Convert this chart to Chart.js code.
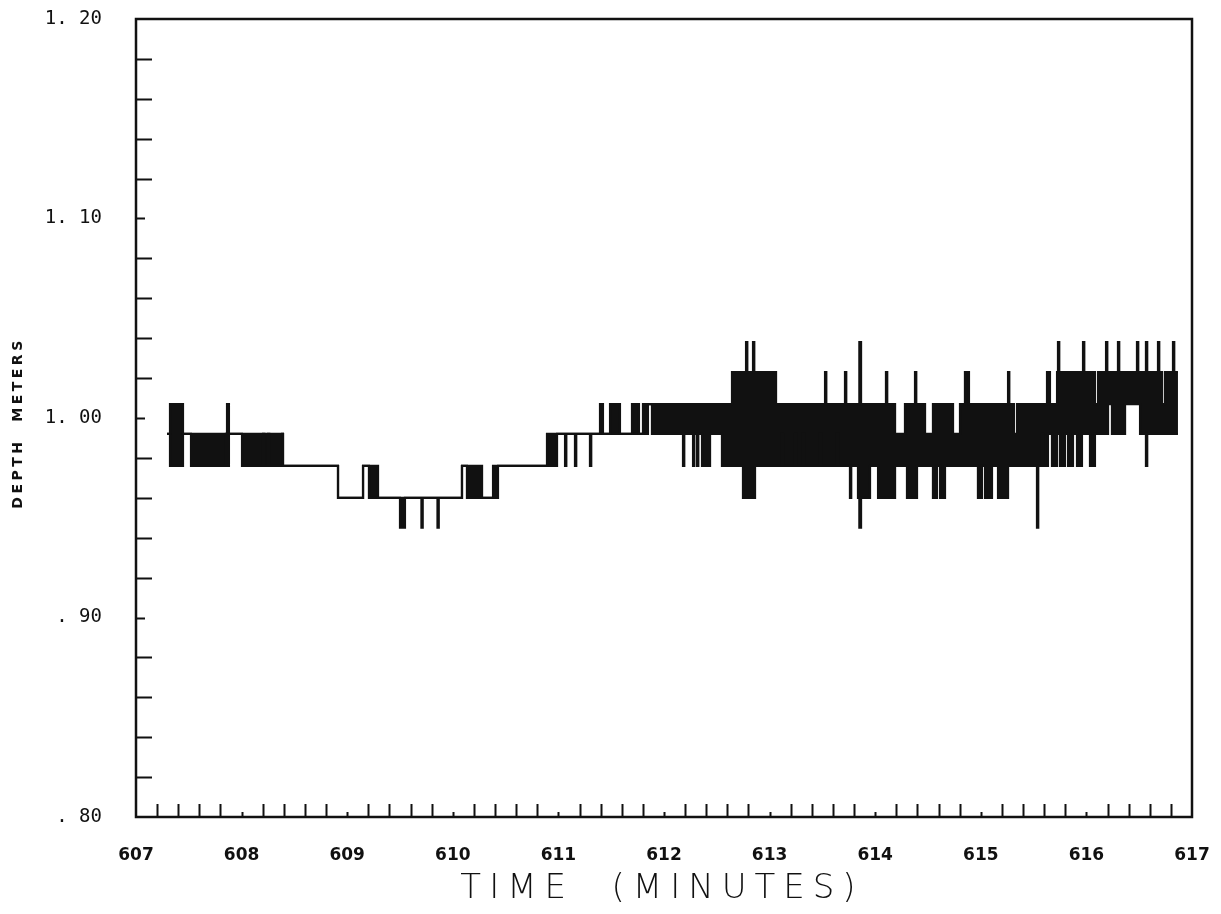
<!DOCTYPE html>
<html>
<head>
<meta charset="utf-8">
<title>Depth vs time</title>
<script src="https://cdn.jsdelivr.net/npm/chart.js@4/dist/chart.umd.min.js"></script>
<style>
  html, body { margin: 0; padding: 0; background: #fff; }
</style>
</head>
<body>
<canvas id="c" width="1221" height="914"></canvas>
<script>
const INK = '#111';

// quantised depth levels (m) the gauge steps between
const LEVELS = [0.945, 0.960, 0.976, 0.992, 1.007, 1.023, 1.038];

// step trace: from each time (minutes) on, the signal spans LEVELS[lo]..LEVELS[hi]
// (hi == lo is a plain line, hi > lo is a dense toggle band or a spike)
const stepTime = [
  607.294, 607.322, 607.445, 607.521, 607.852, 607.862, 607.880, 608.004, 608.203, 608.215,
  608.250, 608.262, 608.383, 608.392, 608.913, 609.150, 609.206, 609.292, 609.500, 609.547,
  609.703, 609.715, 609.855, 609.867, 610.087, 610.134, 610.277, 610.381, 610.392, 610.412,
  610.428, 610.892, 610.987, 611.063, 611.075, 611.157, 611.169, 611.299, 611.311, 611.394,
  611.422, 611.489, 611.583, 611.697, 611.763, 611.801, 611.848, 611.886, 612.180, 612.192,
  612.275, 612.287, 612.313, 612.325, 612.360, 612.436, 612.549, 612.644, 612.748, 612.777,
  612.789, 612.843, 612.855, 612.862, 613.061, 613.117, 613.127, 613.241, 613.251, 613.316,
  613.326, 613.477, 613.487, 613.525, 613.537, 613.638, 613.648, 613.714, 613.726, 613.761,
  613.773, 613.837, 613.850, 613.866, 613.951, 614.027, 614.102, 614.114, 614.188, 614.282,
  614.301, 614.377, 614.389, 614.396, 614.472, 614.547, 614.585, 614.614, 614.661, 614.737,
  614.803, 614.850, 614.888, 614.973, 615.011, 615.040, 615.106, 615.163, 615.258, 615.270,
  615.314, 615.343, 615.532, 615.544, 615.580, 615.589, 615.627, 615.636, 615.655, 615.674,
  615.722, 615.731, 615.743, 615.750, 615.797, 615.826, 615.873, 615.911, 615.958, 615.968,
  615.980, 616.034, 616.081, 616.110, 616.186, 616.198, 616.205, 616.242, 616.299, 616.311,
  616.366, 616.479, 616.491, 616.508, 616.564, 616.576, 616.678, 616.690, 616.716, 616.744,
  616.820, 616.832, 616.867,
];
const stepHi = [
  3, 4, 3, 3, 3, 4, 3, 3, 3, 3,
  3, 3, 3, 2, 1, 2, 2, 1, 1, 1,
  1, 1, 1, 1, 2, 2, 1, 2, 1, 2,
  2, 3, 3, 3, 3, 3, 3, 3, 3, 4,
  3, 4, 3, 4, 3, 4, 4, 4, 4, 4,
  4, 4, 4, 4, 4, 4, 4, 5, 5, 6,
  5, 6, 5, 5, 4, 4, 4, 4, 4, 4,
  4, 4, 4, 5, 4, 4, 4, 5, 4, 4,
  4, 4, 6, 4, 4, 4, 5, 4, 3, 4,
  4, 5, 4, 4, 3, 4, 4, 4, 4, 3,
  4, 5, 4, 4, 4, 4, 4, 4, 5, 4,
  3, 4, 4, 4, 4, 4, 5, 5, 4, 4,
  5, 6, 5, 5, 5, 5, 5, 5, 5, 6,
  5, 5, 4, 5, 6, 5, 5, 5, 6, 5,
  5, 6, 5, 5, 6, 5, 6, 5, 4, 5,
  6, 5, 5,
];
const stepLo = [
  3, 2, 3, 2, 3, 2, 3, 2, 3, 2,
  3, 2, 3, 2, 1, 2, 1, 1, 0, 1,
  0, 1, 0, 1, 2, 1, 1, 1, 1, 1,
  2, 2, 3, 2, 3, 2, 3, 2, 3, 3,
  3, 3, 3, 3, 3, 3, 4, 3, 2, 3,
  2, 3, 2, 3, 2, 3, 2, 2, 1, 1,
  1, 1, 1, 2, 2, 3, 2, 3, 2, 3,
  2, 3, 2, 2, 2, 3, 2, 2, 2, 1,
  2, 1, 0, 1, 2, 1, 1, 1, 2, 2,
  1, 1, 1, 2, 2, 1, 2, 1, 2, 2,
  2, 2, 2, 1, 2, 1, 2, 1, 2, 2,
  2, 2, 0, 2, 3, 2, 2, 3, 3, 2,
  3, 3, 3, 2, 3, 2, 3, 2, 3, 3,
  3, 2, 3, 3, 3, 3, 4, 3, 3, 3,
  4, 4, 4, 3, 2, 3, 3, 3, 3, 3,
  3, 3, 3,
];

const X_TICKS = [607, 608, 609, 610, 611, 612, 613, 614, 615, 616, 617];
const X_TICK_LABELS = ['607', '608', '609', '610', '611', '612', '613', '614', '615', '616', '617'];
const Y_TICKS = [0.80, 0.90, 1.00, 1.10, 1.20];
const Y_TICK_LABELS = ['. 80', '. 90', '1. 00', '1. 10', '1. 20'];

const upperPts = stepTime.map((t, i) => ({ x: t, y: LEVELS[stepHi[i]] }));
const lowerPts = stepTime.map((t, i) => ({ x: t, y: LEVELS[stepLo[i]] }));

// plotter style frame with inward ticks, plus the letter-spaced axis titles
const frameAndTicks = {
  id: 'frameAndTicks',
  afterDraw(chart) {
    const { ctx, chartArea: a, scales: { x, y } } = chart;
    ctx.save();
    ctx.strokeStyle = INK;
    ctx.lineWidth = 2.5;
    ctx.strokeRect(a.left, a.top, a.right - a.left, a.bottom - a.top);

    ctx.lineWidth = 2;
    ctx.beginPath();
    for (let i = 1; i < 50; i++) {
      const px = Math.round(x.getPixelForValue(607 + i * 0.2)) + 0.5;
      const len = i % 5 === 0 ? 5 : 13;
      ctx.moveTo(px, a.bottom);
      ctx.lineTo(px, a.bottom - len);
    }
    for (let i = 1; i < 20; i++) {
      const py = Math.round(y.getPixelForValue(0.8 + i * 0.02)) + 0.5;
      const len = i % 5 === 0 ? 9 : 16;
      ctx.moveTo(a.left, py);
      ctx.lineTo(a.left + len, py);
    }
    ctx.stroke();

    ctx.fillStyle = INK;
    ctx.textAlign = 'center';
    ctx.textBaseline = 'middle';
    ctx.font = '200 34px "DejaVu Sans", sans-serif';
    ctx.letterSpacing = '8px';
    ctx.fillText('TIME  (MINUTES)', (a.left + a.right) / 2 - 2, 889);

    ctx.save();
    ctx.translate(18, (a.top + a.bottom) / 2 + 5);
    ctx.rotate(-Math.PI / 2);
    ctx.font = 'bold 14px "DejaVu Sans", sans-serif';
    ctx.letterSpacing = '3.5px';
    ctx.fillText('DEPTH  METERS', 0, 0);
    ctx.restore();
    ctx.restore();
  },
};

new Chart(document.getElementById('c'), {
  type: 'line',
  data: {
    datasets: [
      {
        label: 'upper',
        data: upperPts,
        borderColor: INK,
        borderWidth: 2.2,
        pointRadius: 0,
        stepped: true,
        fill: false,
      },
      {
        label: 'lower',
        data: lowerPts,
        borderColor: INK,
        backgroundColor: INK,
        borderWidth: 2.2,
        pointRadius: 0,
        stepped: true,
        fill: '-1',
      },
    ],
  },
  options: {
    responsive: false,
    animation: false,
    layout: { padding: { left: 0, top: 19, right: 29, bottom: 0 } },
    plugins: {
      legend: { display: false },
      tooltip: { enabled: false },
    },
    scales: {
      x: {
        type: 'linear',
        min: 607,
        max: 617,
        grid: { display: false, drawTicks: true, tickLength: 28 },
        border: { display: false },
        afterBuildTicks: (s) => { s.ticks = X_TICKS.map((v) => ({ value: v })); },
        afterFit: (s) => { s.height = 97; },
        ticks: {
          autoSkip: false,
          maxRotation: 0,
          padding: 0,
          color: INK,
          font: { family: '"DejaVu Sans", sans-serif', size: 17, weight: 'bold' },
          callback: (v, i) => X_TICK_LABELS[i],
        },
      },
      y: {
        type: 'linear',
        min: 0.8,
        max: 1.2,
        grid: { display: false, drawTicks: true, tickLength: 34 },
        border: { display: false },
        afterBuildTicks: (s) => { s.ticks = Y_TICKS.map((v) => ({ value: v })); },
        afterFit: (s) => { s.width = 136; },
        ticks: {
          padding: 0,
          color: INK,
          font: { family: '"DejaVu Sans Mono", monospace', size: 19 },
          callback: (v, i) => Y_TICK_LABELS[i],
        },
      },
    },
  },
  plugins: [frameAndTicks],
});
</script>
</body>
</html>
